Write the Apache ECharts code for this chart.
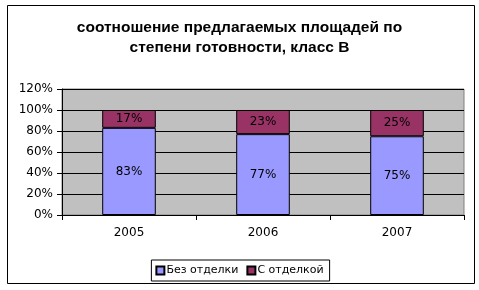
<!DOCTYPE html>
<html><head><meta charset="utf-8">
<script src="https://cdn.jsdelivr.net/npm/echarts@6/dist/echarts.min.js"></script>
<style>html,body{margin:0;padding:0;background:#fff}#c{width:479px;height:290px}</style>
</head><body><div id="c"></div>
<script>
const categories = ['2005', '2006', '2007'];
const seriesNames = ['Без отделки', 'С отделкой'];
const withoutFinish = [83, 77, 75];
const withFinish = [17, 23, 25];
const yTicks = [0, 20, 40, 60, 80, 100, 120];
const titleText = 'соотношение предлагаемых площадей по\nстепени готовности, класс В';

const chart = echarts.init(document.getElementById('c'), null, {renderer: 'canvas'});
const FONT = 'Liberation Sans';
const LFONT = 'DejaVu Sans';
chart.setOption({
  animation: false,
  backgroundColor: '#fff',
  graphic: [{type: 'rect', shape: {x: 7.5, y: 5.5, width: 467, height: 278}, style: {fill: 'none', stroke: '#000', lineWidth: 1}, z: 100}],
  title: {
    text: titleText, left: 'center', top: 13,
    textStyle: {fontFamily: FONT, fontSize: 15.5, fontWeight: 'bold', color: '#000', lineHeight: 20}
  },
  grid: {left: 62, top: 89, width: 402, height: 126, show: true, backgroundColor: '#C0C0C0', borderColor: '#808080', borderWidth: 1},
  legend: {
    data: seriesNames, bottom: 9, left: 'center',
    borderColor: '#000', borderWidth: 1, padding: [5, 6, 5, 4], itemGap: 8,
    itemWidth: 8, itemHeight: 8, icon: 'rect',
    textStyle: {fontFamily: LFONT, fontSize: 11, color: '#000', padding: [0, 0, 0, -3]},
  },
  xAxis: {
    type: 'category', data: categories,
    axisLine: {lineStyle: {color: '#000'}},
    axisTick: {show: true, length: 5, lineStyle: {color: '#000'}},
    axisLabel: {fontFamily: LFONT, fontSize: 12, color: '#000', margin: 12}
  },
  yAxis: {
    type: 'value', min: 0, max: 120, interval: 20,
    axisLine: {show: true, lineStyle: {color: '#000'}},
    axisTick: {show: true, length: 5, lineStyle: {color: '#000'}},
    axisLabel: {fontFamily: LFONT, fontSize: 12, color: '#000', margin: 9,
      formatter: v => yTicks.includes(v) ? v + '%' : ''},
    splitLine: {lineStyle: {color: '#000'}}
  },
  series: [
    {name: seriesNames[0], type: 'bar', stack: 's', data: withoutFinish, barWidth: '40%',
     itemStyle: {color: '#9999FF', borderColor: '#000', borderWidth: 1},
     label: {show: true, position: 'inside', formatter: '{c}%', fontFamily: LFONT, fontSize: 12, color: '#000'}},
    {name: seriesNames[1], type: 'bar', stack: 's', data: withFinish, barWidth: '40%',
     itemStyle: {color: '#993366', borderColor: '#000', borderWidth: 1},
     label: {show: true, position: 'inside', formatter: '{c}%', fontFamily: LFONT, fontSize: 12, color: '#000'}}
  ]
});
</script></body></html>
